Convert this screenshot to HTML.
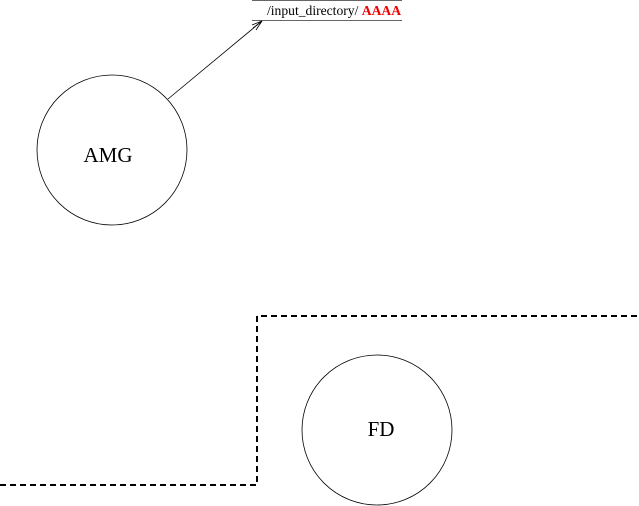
<!DOCTYPE html>
<html><head><style>body{margin:0;background:#fff}svg{display:block}</style></head><body>
<svg width="639" height="506" viewBox="0 0 639 506" xmlns="http://www.w3.org/2000/svg" font-family="Liberation Serif, serif">
<line x1="252" y1="0.5" x2="402" y2="0.5" stroke="#666" stroke-width="1"/>
<line x1="252" y1="20.5" x2="402" y2="20.5" stroke="#666" stroke-width="1"/>
<text x="267" y="15" font-size="13.6">/input_directory/ <tspan fill="#e00" font-weight="bold">AAAA</tspan></text>
<line x1="168" y1="99" x2="262" y2="21" stroke="#000" stroke-width="0.8"/>
<path d="M262 21 L252 25 M262 21 L256 30 M262 21 L253 28" stroke="#000" stroke-width="0.8" fill="none"/>
<circle cx="112" cy="150" r="75" fill="none" stroke="#000" stroke-width="0.8"/>
<text x="108" y="162" font-size="21" text-anchor="middle">AMG</text>
<circle cx="377" cy="430" r="75" fill="none" stroke="#000" stroke-width="0.8"/>
<text x="381" y="436" font-size="21" text-anchor="middle">FD</text>
<path d="M0 485 L257 485 L257 316 L639 316" fill="none" stroke="#000" stroke-width="2" stroke-dasharray="6,4"/>
</svg>
</body></html>
